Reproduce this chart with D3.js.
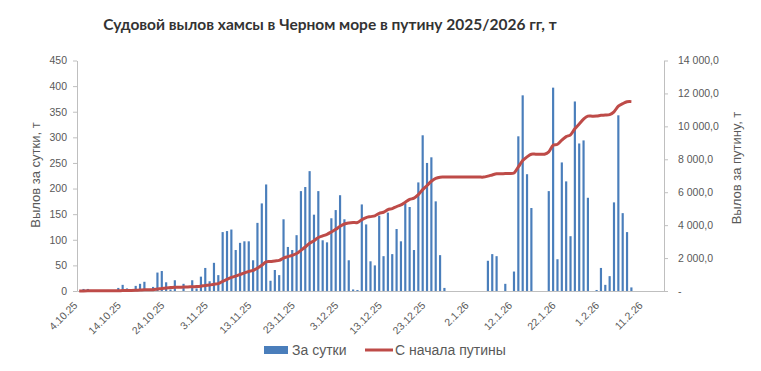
<!DOCTYPE html>
<html>
<head>
<meta charset="utf-8">
<script src="https://cdn.jsdelivr.net/npm/d3@7"></script>
<style>
  body { margin: 0; background: #fff; }
  svg { display: block; font-family: "Liberation Sans", Arial, sans-serif; }
</style>
</head>
<body>
<svg id="chart" width="761" height="371"></svg>
<script>
(function () {
  'use strict';

  /* ---- Data ---- */
  const START_DAY = new Date(2025, 9, 4);   // 4.10.25
  const END_DAY   = new Date(2026, 1, 16);  // axis runs through 15.2.26

  // daily catch, t (one value per day from 4.10.25)
  const DAILY = [
    0, 4, 4, 0, 0, 0, 0, 0, 0, 6,
    12, 5, 0, 10, 14, 18, 0, 8, 36, 39,
    17, 3, 21, 0, 14, 0, 21, 5, 28, 45,
    19, 55, 31, 115, 117, 120, 80, 94, 97, 97,
    60, 133, 171, 208, 20, 41, 31, 140, 86, 80,
    109, 195, 203, 234, 149, 195, 99, 95, 142, 158,
    187, 140, 60, 3, 2, 169, 130, 58, 50, 147,
    68, 153, 72, 121, 97, 171, 164, 80, 212, 304,
    250, 261, 175, 70, 6, 0, 0, 0, 0, 0,
    0, 0, 0, 0, 59, 72, 68, 0, 14, 0,
    38, 302, 382, 228, 162, 0, 0, 0, 195, 397,
    62, 251, 214, 107, 370, 288, 294, 182, 0, 2,
    45, 12, 29, 173, 343, 152, 115, 7
  ];

  // catch since start of season, t
  const TOTAL = [
    0, 4, 8, 8, 8, 8, 8, 8, 8, 14,
    26, 31, 31, 41, 55, 73, 73, 81, 117, 156,
    188, 206, 227, 227, 241, 241, 262, 267, 295, 340,
    359, 414, 445, 590, 707, 827, 907, 1001, 1098, 1195,
    1255, 1388, 1559, 1767, 1787, 1828, 1859, 1999, 2085, 2165,
    2274, 2469, 2672, 2906, 3055, 3250, 3349, 3444, 3586, 3744,
    3931, 4071, 4131, 4159, 4161, 4330, 4460, 4518, 4568, 4715,
    4783, 4936, 5008, 5129, 5226, 5397, 5561, 5641, 5853, 6157,
    6407, 6668, 6843, 6913, 6919, 6919, 6919, 6919, 6919, 6919,
    6919, 6919, 6919, 6919, 6978, 7050, 7118, 7118, 7132, 7132,
    7170, 7537, 7919, 8147, 8309, 8309, 8309, 8309, 8454, 8851,
    8913, 9164, 9378, 9485, 9855, 10143, 10437, 10619, 10619, 10626,
    10671, 10683, 10712, 10885, 11228, 11380, 11495, 11502
  ];

  const TICK_LABELS = ['4.10.25', '14.10.25', '24.10.25', '3.11.25', '13.11.25', '23.11.25',
    '3.12.25', '13.12.25', '23.12.25', '2.1.26', '12.1.26', '22.1.26', '1.2.26', '11.2.26'];
  const LEFT_TICKS  = [0, 50, 100, 150, 200, 250, 300, 350, 400, 450];
  const RIGHT_TICKS = [0, 2000, 4000, 6000, 8000, 10000, 12000, 14000];

  const TITLE       = 'Судовой вылов хамсы в Черном море в путину 2025/2026 гг, т';
  const LEFT_TITLE  = 'Вылов за сутки, т';
  const RIGHT_TITLE = 'Вылов за путину, т';
  const SERIES_NAMES = ['За сутки', 'С начала путины'];

  const BAR_COLOR  = '#4a7ebb';
  const LINE_COLOR = '#be4b48';
  const AXIS_COLOR = '#bfbfbf';
  const TEXT_COLOR = '#595959';

  /* ---- Categories ---- */
  const fmtDay = d3.timeFormat('%-d.%-m.%y');
  const days = d3.timeDay.range(START_DAY, END_DAY).map(fmtDay);

  const M = { left: 77, right: 664, top: 60.5, bottom: 291 };

  const x = d3.scaleBand()
    .domain(days)
    .range([M.left, M.right])
    .paddingInner(0.5)
    .paddingOuter(0.25);
  const yL = d3.scaleLinear().domain([0, 450]).range([M.bottom, M.top]);
  const yR = d3.scaleLinear().domain([0, 14000]).range([M.bottom, M.top]);

  const svg = d3.select('#chart');

  /* ---- Title ---- */
  svg.append('text')
    .attr('x', 330).attr('y', 30)
    .attr('text-anchor', 'middle')
    .style('font-family', 'Lato, "Liberation Sans", sans-serif')
    .style('font-weight', '700')
    .style('font-size', '15.5px')
    .style('fill', '#333')
    .text(TITLE);

  /* ---- Bars ---- */
  svg.append('g')
    .selectAll('rect')
    .data(DAILY.map((v, i) => ({ day: days[i], v })).filter(d => d.v > 0))
    .join('rect')
      .attr('x', d => x(d.day))
      .attr('width', x.bandwidth())
      .attr('y', d => yL(d.v))
      .attr('height', d => yL(0) - yL(d.v))
      .attr('fill', BAR_COLOR);

  /* ---- Axes ---- */
  const leftAxis = svg.append('g')
    .attr('transform', `translate(${M.left},0)`)
    .call(d3.axisLeft(yL).tickValues(LEFT_TICKS).tickSize(4).tickPadding(6).tickSizeOuter(0));

  const ru = d3.formatLocale({ decimal: ',', thousands: '\u00a0', grouping: [3], currency: ['', ''] });
  const fmtR = ru.format(',.1f');
  const rightAxis = svg.append('g')
    .attr('transform', `translate(${M.right},0)`)
    .call(d3.axisRight(yR).tickValues(RIGHT_TICKS).tickSize(4).tickPadding(10).tickSizeOuter(0)
      .tickFormat(d => d === 0 ? '-' : fmtR(d)));

  const bottomAxis = svg.append('g')
    .attr('transform', `translate(0,${M.bottom})`)
    .call(d3.axisBottom(x).tickValues(TICK_LABELS).tickSize(0).tickSizeOuter(0));

  bottomAxis.selectAll('text')
    .attr('text-anchor', 'end')
    .attr('dy', null)
    .attr('y', 0)
    .attr('transform', 'translate(-1,15) rotate(-45)');

  [leftAxis, rightAxis, bottomAxis].forEach(g => {
    g.selectAll('path, line').attr('stroke', AXIS_COLOR);
    g.selectAll('text')
      .style('fill', TEXT_COLOR)
      .style('font-size', '10.5px')
      .style('font-family', '"Liberation Sans", Arial, sans-serif');
  });

  /* ---- Cumulative line ---- */
  const line = d3.line()
    .x((d, i) => x(days[i]) + x.bandwidth() / 2)
    .y(d => yR(d))
    .curve(d3.curveCatmullRom);

  svg.append('path')
    .datum(TOTAL)
    .attr('d', line)
    .attr('fill', 'none')
    .attr('stroke', LINE_COLOR)
    .attr('stroke-width', 3)
    .attr('stroke-linejoin', 'round');

  /* ---- Axis titles ---- */
  svg.append('text')
    .attr('transform', 'translate(40,175) rotate(-90)')
    .attr('text-anchor', 'middle')
    .style('font-size', '13px')
    .style('fill', TEXT_COLOR)
    .text(LEFT_TITLE);

  svg.append('text')
    .attr('transform', 'translate(741,168) rotate(-90)')
    .attr('text-anchor', 'middle')
    .style('font-size', '13px')
    .style('fill', TEXT_COLOR)
    .text(RIGHT_TITLE);

  /* ---- Legend ---- */
  const legend = svg.append('g').attr('transform', 'translate(264,350)');
  legend.append('rect')
    .attr('x', 0).attr('y', -4).attr('width', 24).attr('height', 8)
    .attr('fill', BAR_COLOR);
  legend.append('text')
    .attr('x', 28).attr('y', 5)
    .style('font-size', '14px').style('fill', TEXT_COLOR)
    .text(SERIES_NAMES[0]);
  legend.append('line')
    .attr('x1', 101).attr('x2', 129).attr('y1', 0).attr('y2', 0)
    .attr('stroke', LINE_COLOR).attr('stroke-width', 3);
  legend.append('text')
    .attr('x', 131).attr('y', 5)
    .style('font-size', '14px').style('fill', TEXT_COLOR)
    .text(SERIES_NAMES[1]);
})();
</script>
</body>
</html>
